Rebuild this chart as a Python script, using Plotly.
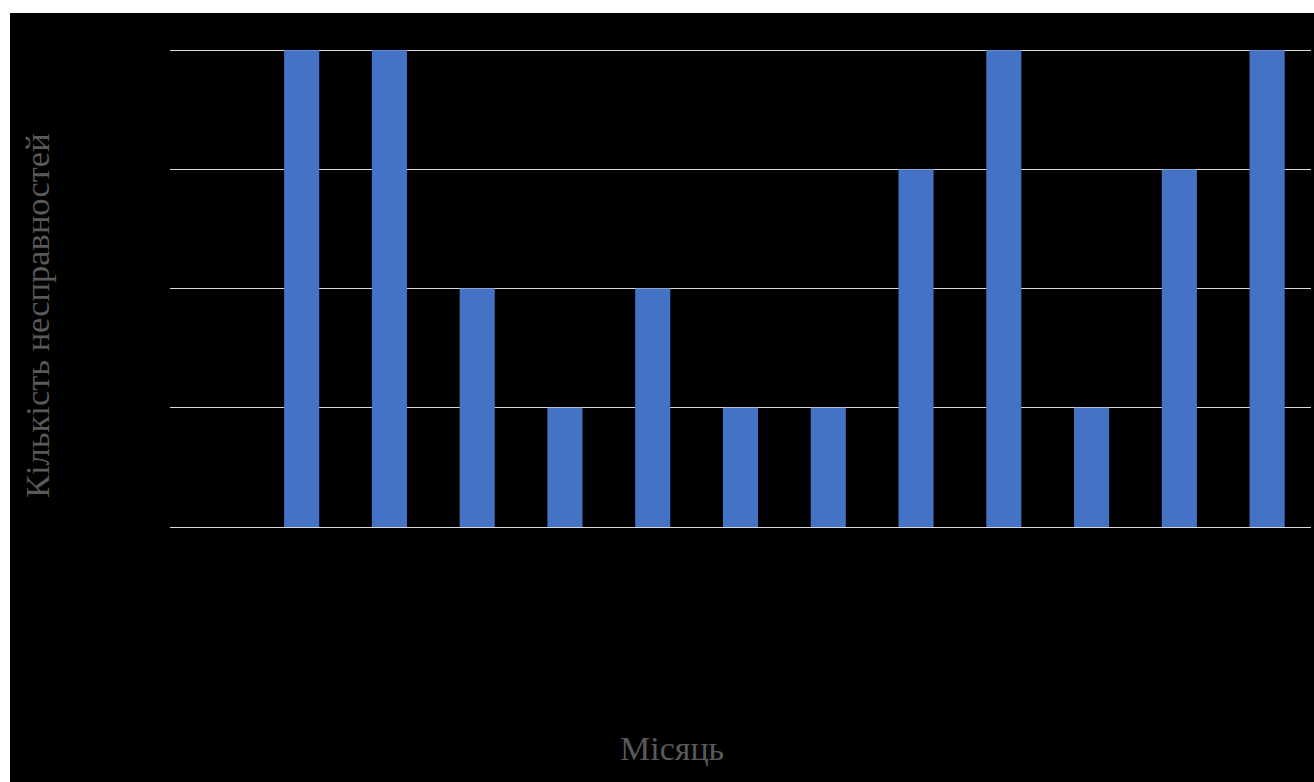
import plotly.graph_objects as go

categories = [" ", "Січень", "Лютий", "Березень", "Квітень", "Травень", "Червень",
              "Липень", "Серпень", "Вересень", "Жовтень", "Листопад", "Грудень"]
values = [0, 4, 4, 2, 1, 2, 1, 1, 3, 4, 1, 3, 4]
y_ticks = [0, 1, 2, 3, 4]

W, H = 1314, 782
L, R, T, B = 170, 3, 49, 255

fig = go.Figure(go.Bar(
    x=categories, y=values,
    marker=dict(color="#4472C4", line=dict(width=0)),
))

pw = W - L - R
ph = H - T - B


def px_x(px):
    return (px - L) / pw


def px_y(py):
    return (H - B - py) / ph


fig.update_layout(
    width=W, height=H,
    margin=dict(l=L, r=R, t=T, b=B, autoexpand=False),
    paper_bgcolor="white",
    plot_bgcolor="black",
    bargap=0.6,
    showlegend=False,
    font=dict(family="Liberation Serif, Times New Roman, serif", color="#595959"),
    shapes=[dict(type="rect", xref="paper", yref="paper", x0=px_x(10), x1=px_x(W + 5),
                 y0=px_y(H + 5), y1=px_y(13), fillcolor="black", line=dict(width=0),
                 layer="below")],
    annotations=[
        dict(text="Місяць", xref="paper", yref="paper", x=px_x(672), y=px_y(748),
             xanchor="center", yanchor="middle", showarrow=False,
             font=dict(size=34, color="#595959")),
        dict(text="Кількість несправностей", xref="paper", yref="paper",
             x=px_x(37), y=px_y(316), xanchor="center", yanchor="middle",
             textangle=-90, showarrow=False,
             font=dict(size=34.5, color="#595959")),
    ],
    xaxis=dict(
        showticklabels=False, showgrid=False, zeroline=False, showline=False,
        ticks="", automargin=False,
    ),
    yaxis=dict(
        range=[0, 4.01], tickvals=y_ticks, showticklabels=False,
        showgrid=True, gridcolor="#D9D9D9", gridwidth=1.3,
        zeroline=True, zerolinecolor="#D9D9D9", zerolinewidth=1.3,
        ticks="", automargin=False,
    ),
)

fig.write_html("out.html")
